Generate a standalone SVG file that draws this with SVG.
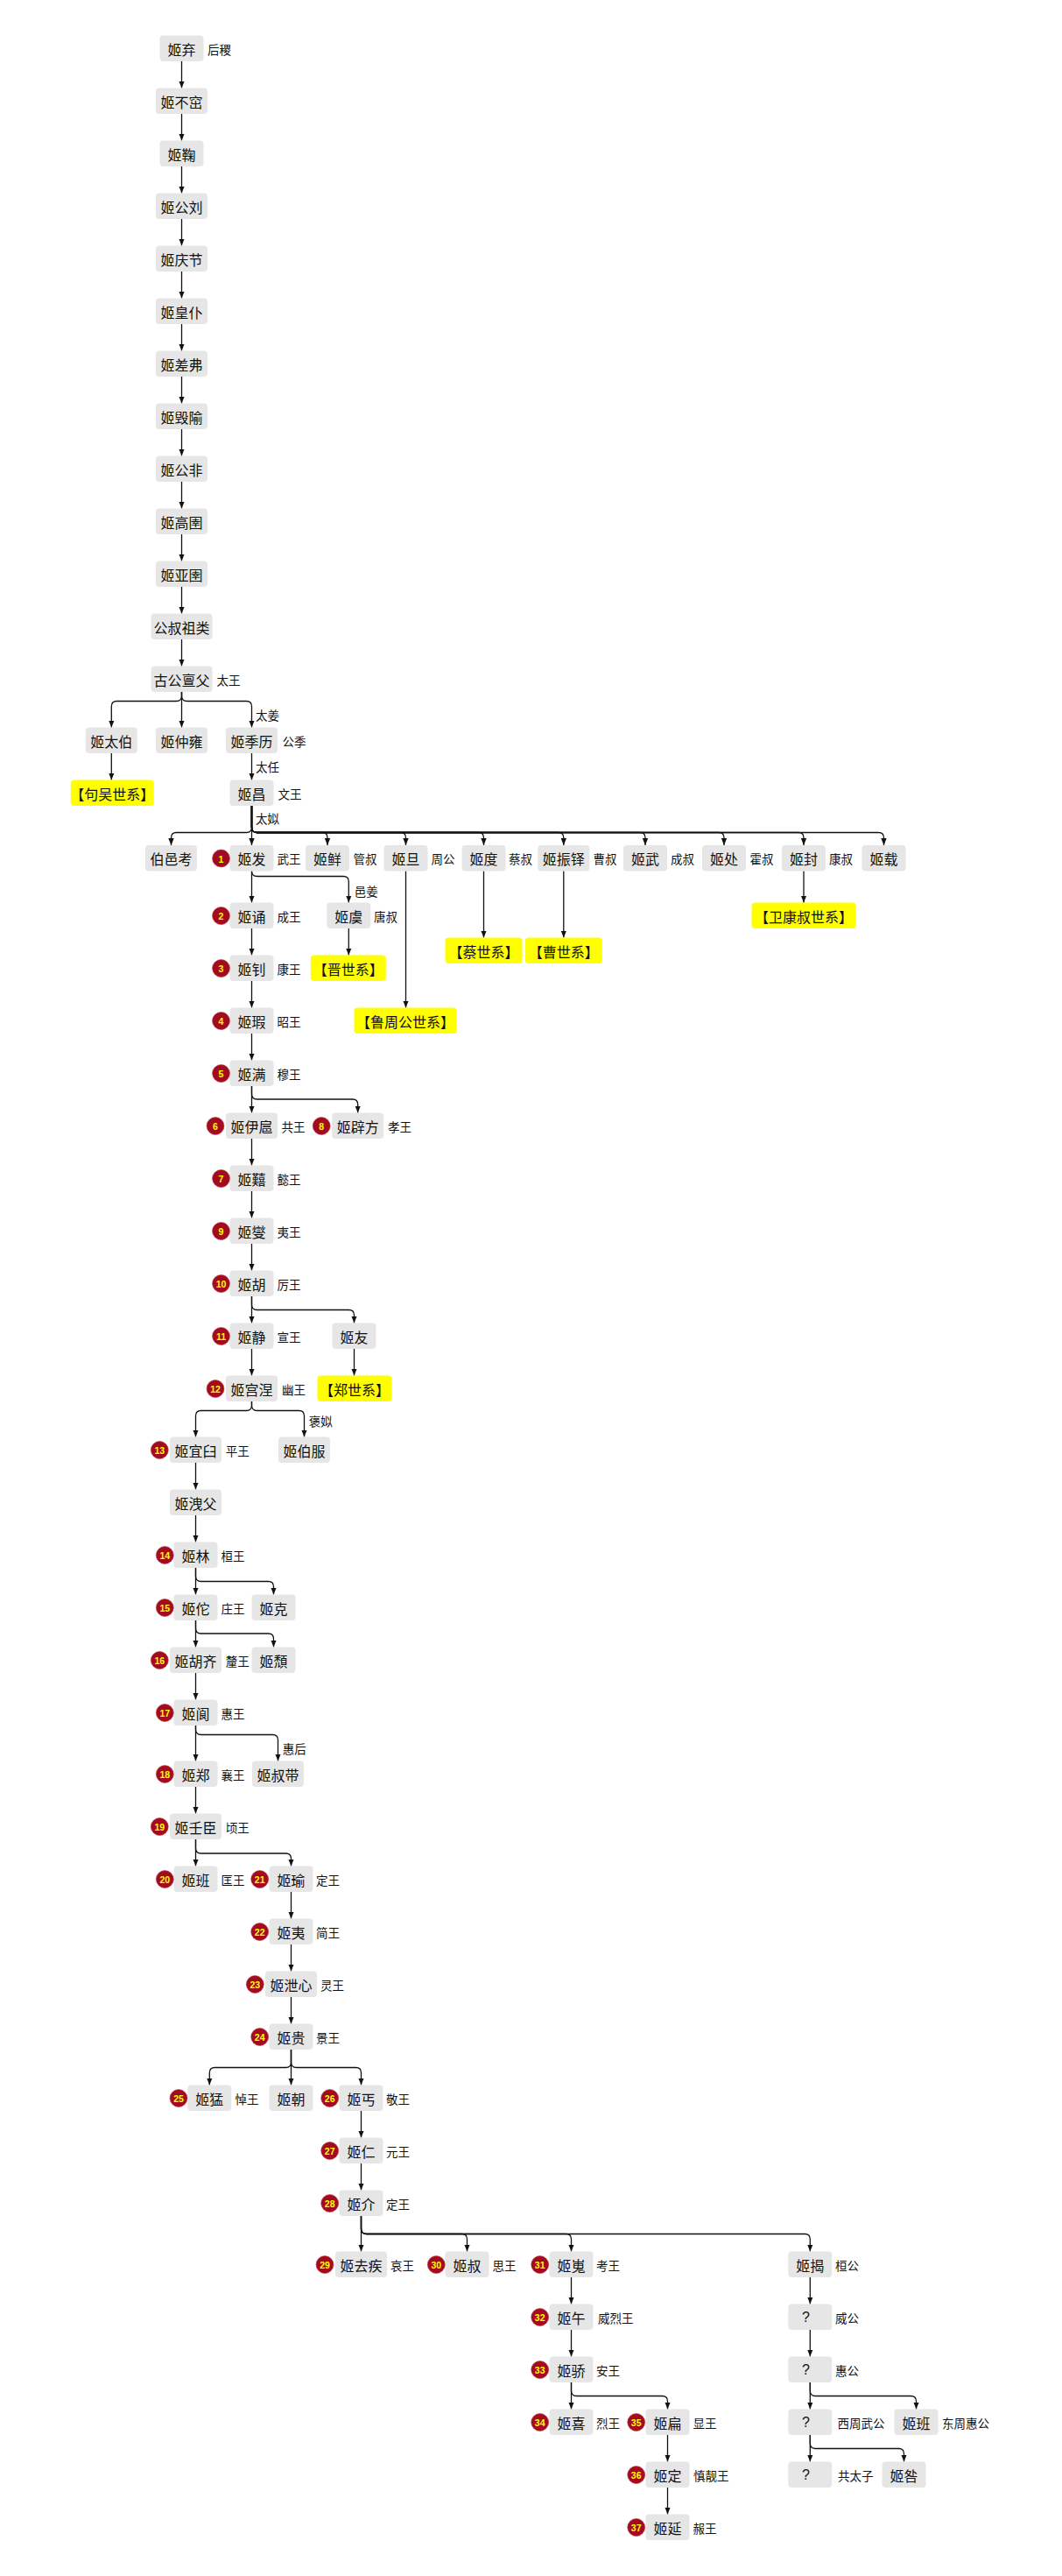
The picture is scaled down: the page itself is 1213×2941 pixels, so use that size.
<svg xmlns="http://www.w3.org/2000/svg" width="1213" height="2941" viewBox="0 0 1213 2941">
<defs>
<style>
.n rect{fill:#e6e6e6}
.h rect{fill:#ffff00}
text{font-family:"Noto Sans CJK SC","Noto Sans",sans-serif;dominant-baseline:central;fill:#111}
.n text,.h text{font-size:16px;text-anchor:middle}
text.lb,text.el{font-size:13.5px;text-anchor:start}
.q{font-family:"Liberation Sans",Arial,sans-serif}
.b circle{fill:#a30b1f;stroke:#c0404e;stroke-width:0.6}
.b text{font-family:"Liberation Sans",Arial,sans-serif;font-weight:bold;font-size:10.5px;fill:#ffff00;text-anchor:middle}
#edges path{fill:none;stroke:#111;stroke-width:1.3;marker-end:url(#ah)}
</style>
<marker id="ah" viewBox="0 0 10 10" refX="10" refY="5" markerWidth="8" markerHeight="8" markerUnits="userSpaceOnUse" orient="auto"><path d="M0,1 L10,5 L0,9 z" fill="#111"/></marker>
</defs>
<rect width="1213" height="2941" fill="#ffffff"/>

<g id="edges">
<path d="M207.5,70 V100.5"/>
<path d="M207.5,130 V160.5"/>
<path d="M207.5,190 V220.5"/>
<path d="M207.5,250 V280.5"/>
<path d="M207.5,310 V340.5"/>
<path d="M207.5,370 V400.5"/>
<path d="M207.5,430 V460.5"/>
<path d="M207.5,490 V520.5"/>
<path d="M207.5,550 V580.5"/>
<path d="M207.5,610 V640.5"/>
<path d="M207.5,670 V700.5"/>
<path d="M207.5,730 V760.5"/>
<path d="M207.5,790 V794.5 Q207.5,800.5 201.5,800.5 H133.3 Q127.3,800.5 127.3,806.5 V830.5"/>
<path d="M207.5,790 V830.5"/>
<path d="M207.5,790 V794.5 Q207.5,800.5 213.5,800.5 H281.5 Q287.5,800.5 287.5,806.5 V830.5"/>
<path d="M127.3,860 V890.5"/>
<path d="M287.5,860 V890.5"/>
<path d="M287.5,920 V944.5 Q287.5,950.5 281.5,950.5 H201.5 Q195.5,950.5 195.5,956.5 V965"/>
<path d="M287.5,920 V965"/>
<path d="M287.5,920 V944.5 Q287.5,950.5 293.5,950.5 H368 Q374,950.5 374,956.5 V965"/>
<path d="M287.5,920 V944.5 Q287.5,950.5 293.5,950.5 H457.5 Q463.5,950.5 463.5,956.5 V965"/>
<path d="M287.5,920 V944.5 Q287.5,950.5 293.5,950.5 H546.5 Q552.5,950.5 552.5,956.5 V965"/>
<path d="M287.5,920 V944.5 Q287.5,950.5 293.5,950.5 H637.8 Q643.8,950.5 643.8,956.5 V965"/>
<path d="M287.5,920 V944.5 Q287.5,950.5 293.5,950.5 H731 Q737,950.5 737,956.5 V965"/>
<path d="M287.5,920 V944.5 Q287.5,950.5 293.5,950.5 H821 Q827,950.5 827,956.5 V965"/>
<path d="M287.5,920 V944.5 Q287.5,950.5 293.5,950.5 H912 Q918,950.5 918,956.5 V965"/>
<path d="M287.5,920 V944.5 Q287.5,950.5 293.5,950.5 H1003.5 Q1009.5,950.5 1009.5,956.5 V965"/>
<path d="M287.5,994.5 V1030.5"/>
<path d="M287.5,994.5 Q287.5,1000.5 293.5,1000.5 H392.3 Q398.3,1000.5 398.3,1006.5 V1030.5"/>
<path d="M398.3,1060 V1090.5"/>
<path d="M463.5,994.5 V1150.5"/>
<path d="M552.5,994.5 V1070.5"/>
<path d="M643.8,994.5 V1070.5"/>
<path d="M918,994.5 V1030.5"/>
<path d="M287.5,1060 V1090.5"/>
<path d="M287.5,1120 V1150.5"/>
<path d="M287.5,1180 V1210.5"/>
<path d="M287.5,1240 V1270.5"/>
<path d="M287.5,1240 V1249 Q287.5,1255 293.5,1255 H402.7 Q408.7,1255 408.7,1261 V1270.5"/>
<path d="M287.5,1300 V1330.5"/>
<path d="M287.5,1360 V1390.5"/>
<path d="M287.5,1420 V1450.5"/>
<path d="M287.5,1480 V1510.5"/>
<path d="M287.5,1480 V1489.5 Q287.5,1495.5 293.5,1495.5 H398.5 Q404.5,1495.5 404.5,1501.5 V1510.5"/>
<path d="M287.5,1540 V1570.5"/>
<path d="M404.5,1540 V1570.5"/>
<path d="M287.5,1600 V1604.5 Q287.5,1610.5 281.5,1610.5 H229.5 Q223.5,1610.5 223.5,1616.5 V1640.5"/>
<path d="M287.5,1600 V1604.5 Q287.5,1610.5 293.5,1610.5 H341.5 Q347.5,1610.5 347.5,1616.5 V1640.5"/>
<path d="M223.5,1670 V1700.5"/>
<path d="M223.5,1730 V1760.5"/>
<path d="M223.5,1790 V1820.5"/>
<path d="M223.5,1790 V1799.5 Q223.5,1805.5 229.5,1805.5 H306.5 Q312.5,1805.5 312.5,1811.5 V1820.5"/>
<path d="M223.5,1850 V1880.5"/>
<path d="M223.5,1850 V1859 Q223.5,1865 229.5,1865 H306.5 Q312.5,1865 312.5,1871 V1880.5"/>
<path d="M223.5,1910 V1940.5"/>
<path d="M223.5,1970 V2010.5"/>
<path d="M223.5,1970 V1974.5 Q223.5,1980.5 229.5,1980.5 H311.5 Q317.5,1980.5 317.5,1986.5 V2010.5"/>
<path d="M223.5,2040 V2070.5"/>
<path d="M223.5,2100 V2130.5"/>
<path d="M223.5,2100 V2110 Q223.5,2116 229.5,2116 H326.5 Q332.5,2116 332.5,2122 V2130.5"/>
<path d="M332.5,2160 V2190.5"/>
<path d="M332.5,2220 V2250.5"/>
<path d="M332.5,2280 V2310.5"/>
<path d="M332.5,2340 V2354.5 Q332.5,2360.5 326.5,2360.5 H245.3 Q239.3,2360.5 239.3,2366.5 V2380.5"/>
<path d="M332.5,2340 V2380.5"/>
<path d="M332.5,2340 V2354.5 Q332.5,2360.5 338.5,2360.5 H406.5 Q412.5,2360.5 412.5,2366.5 V2380.5"/>
<path d="M412.5,2410 V2440.5"/>
<path d="M412.5,2470 V2500.5"/>
<path d="M412.5,2530 V2570.5"/>
<path d="M412.5,2530 V2544.5 Q412.5,2550.5 418.5,2550.5 H527.5 Q533.5,2550.5 533.5,2556.5 V2570.5"/>
<path d="M412.5,2530 V2544.5 Q412.5,2550.5 418.5,2550.5 H646.5 Q652.5,2550.5 652.5,2556.5 V2570.5"/>
<path d="M412.5,2530 V2544.5 Q412.5,2550.5 418.5,2550.5 H919.3 Q925.3,2550.5 925.3,2556.5 V2570.5"/>
<path d="M652.5,2600 V2630.5"/>
<path d="M652.5,2660 V2690.5"/>
<path d="M652.5,2720 V2750.5"/>
<path d="M652.5,2720 V2729.5 Q652.5,2735.5 658.5,2735.5 H756.5 Q762.5,2735.5 762.5,2741.5 V2750.5"/>
<path d="M762.5,2780 V2810.5"/>
<path d="M762.5,2840 V2870.5"/>
<path d="M925.3,2600 V2630.5"/>
<path d="M925.3,2660 V2690.5"/>
<path d="M925.3,2720 V2750.5"/>
<path d="M925.3,2720 V2729.5 Q925.3,2735.5 931.3,2735.5 H1040.5 Q1046.5,2735.5 1046.5,2741.5 V2750.5"/>
<path d="M925.3,2780 V2810.5"/>
<path d="M925.3,2780 V2789.5 Q925.3,2795.5 931.3,2795.5 H1026.5 Q1032.5,2795.5 1032.5,2801.5 V2810.5"/>
<text class="el" x="292" y="816">太姜</text>
<text class="el" x="292" y="875">太任</text>
<text class="el" x="292" y="933.5">太姒</text>
<text class="el" x="404.7" y="1016.5">邑姜</text>
<text class="el" x="352.7" y="1622">褒姒</text>
<text class="el" x="322.7" y="1996">惠后</text>
</g>

<g id="n-qi" class="n"><rect x="182.5" y="40.5" width="50" height="29.5" rx="4"/><text x="207.5" y="55.5">姬弃</text><text class="lb" x="237" y="55.5">后稷</text></g>
<g id="n-buku" class="n"><rect x="178" y="100.5" width="59" height="29.5" rx="4"/><text x="207.5" y="115.5">姬不窋</text></g>
<g id="n-ju" class="n"><rect x="182.5" y="160.5" width="50" height="29.5" rx="4"/><text x="207.5" y="175.5">姬鞠</text></g>
<g id="n-gongliu" class="n"><rect x="178" y="220.5" width="59" height="29.5" rx="4"/><text x="207.5" y="235.5">姬公刘</text></g>
<g id="n-qingjie" class="n"><rect x="178" y="280.5" width="59" height="29.5" rx="4"/><text x="207.5" y="295.5">姬庆节</text></g>
<g id="n-huangpu" class="n"><rect x="178" y="340.5" width="59" height="29.5" rx="4"/><text x="207.5" y="355.5">姬皇仆</text></g>
<g id="n-chafu" class="n"><rect x="178" y="400.5" width="59" height="29.5" rx="4"/><text x="207.5" y="415.5">姬差弗</text></g>
<g id="n-huiyu" class="n"><rect x="178" y="460.5" width="59" height="29.5" rx="4"/><text x="207.5" y="475.5">姬毁隃</text></g>
<g id="n-gongfei" class="n"><rect x="178" y="520.5" width="59" height="29.5" rx="4"/><text x="207.5" y="535.5">姬公非</text></g>
<g id="n-gaoyu" class="n"><rect x="178" y="580.5" width="59" height="29.5" rx="4"/><text x="207.5" y="595.5">姬高圉</text></g>
<g id="n-yayu" class="n"><rect x="178" y="640.5" width="59" height="29.5" rx="4"/><text x="207.5" y="655.5">姬亚圉</text></g>
<g id="n-zulei" class="n"><rect x="172.5" y="700.5" width="70" height="29.5" rx="4"/><text x="207.5" y="715.5">公叔祖类</text></g>
<g id="n-danfu" class="n"><rect x="172.5" y="760.5" width="70" height="29.5" rx="4"/><text x="207.5" y="775.5">古公亶父</text><text class="lb" x="247.5" y="775.5">太王</text></g>

<g id="n-taibo" class="n"><rect x="97.8" y="830.5" width="59" height="29.5" rx="4"/><text x="127.3" y="845.5">姬太伯</text></g>
<g id="n-zhongyong" class="n"><rect x="178" y="830.5" width="59" height="29.5" rx="4"/><text x="207.5" y="845.5">姬仲雍</text></g>
<g id="n-jili" class="n"><rect x="258" y="830.5" width="59" height="29.5" rx="4"/><text x="287.5" y="845.5">姬季历</text><text class="lb" x="322.5" y="845.5">公季</text></g>
<g id="h-gouwu" class="h"><rect x="80.8" y="890.5" width="95" height="29.5" rx="4"/><text x="128.3" y="905.5">【句吴世系】</text></g>
<g id="n-chang" class="n"><rect x="262.5" y="890.5" width="50" height="29.5" rx="4"/><text x="287.5" y="905.5">姬昌</text><text class="lb" x="317.5" y="905.5">文王</text></g>

<g id="n-boyikao" class="n"><rect x="166" y="965" width="59" height="29.5" rx="4"/><text x="195.5" y="980">伯邑考</text></g>
<g id="n-fa" class="n"><rect x="262.5" y="965" width="50" height="29.5" rx="4"/><text x="287.5" y="980">姬发</text><text class="lb" x="316.5" y="980">武王</text><g class="b"><circle cx="252.5" cy="980" r="10"/><text x="252.5" y="980.5">1</text></g></g>
<g id="n-xian" class="n"><rect x="349" y="965" width="50" height="29.5" rx="4"/><text x="374" y="980">姬鲜</text><text class="lb" x="403.5" y="980">管叔</text></g>
<g id="n-dan" class="n"><rect x="438.5" y="965" width="50" height="29.5" rx="4"/><text x="463.5" y="980">姬旦</text><text class="lb" x="492.5" y="980">周公</text></g>
<g id="n-du" class="n"><rect x="527.5" y="965" width="50" height="29.5" rx="4"/><text x="552.5" y="980">姬度</text><text class="lb" x="581" y="980">蔡叔</text></g>
<g id="n-zhenduo" class="n"><rect x="614.3" y="965" width="59" height="29.5" rx="4"/><text x="643.8" y="980">姬振铎</text><text class="lb" x="677.5" y="980">曹叔</text></g>
<g id="n-wu" class="n"><rect x="712" y="965" width="50" height="29.5" rx="4"/><text x="737" y="980">姬武</text><text class="lb" x="766" y="980">成叔</text></g>
<g id="n-chu" class="n"><rect x="802" y="965" width="50" height="29.5" rx="4"/><text x="827" y="980">姬处</text><text class="lb" x="856.5" y="980">霍叔</text></g>
<g id="n-feng" class="n"><rect x="893" y="965" width="50" height="29.5" rx="4"/><text x="918" y="980">姬封</text><text class="lb" x="947" y="980">康叔</text></g>
<g id="n-zai" class="n"><rect x="984.5" y="965" width="50" height="29.5" rx="4"/><text x="1009.5" y="980">姬载</text></g>

<g id="n-song" class="n"><rect x="262.5" y="1030.5" width="50" height="29.5" rx="4"/><text x="287.5" y="1045.5">姬诵</text><text class="lb" x="316.5" y="1045.5">成王</text><g class="b"><circle cx="252.5" cy="1045.5" r="10"/><text x="252.5" y="1046">2</text></g></g>
<g id="n-yu" class="n"><rect x="373.3" y="1030.5" width="50" height="29.5" rx="4"/><text x="398.3" y="1045.5">姬虞</text><text class="lb" x="427" y="1045.5">唐叔</text></g>
<g id="h-weikangshu" class="h"><rect x="858.5" y="1030.5" width="119" height="29.5" rx="4"/><text x="918" y="1045.5">【卫康叔世系】</text></g>
<g id="h-cai" class="h"><rect x="508.5" y="1070.5" width="88" height="29.5" rx="4"/><text x="552.5" y="1085.5">【蔡世系】</text></g>
<g id="h-cao" class="h"><rect x="599.8" y="1070.5" width="88" height="29.5" rx="4"/><text x="643.8" y="1085.5">【曹世系】</text></g>
<g id="n-zhao" class="n"><rect x="262.5" y="1090.5" width="50" height="29.5" rx="4"/><text x="287.5" y="1105.5">姬钊</text><text class="lb" x="316.5" y="1105.5">康王</text><g class="b"><circle cx="252.5" cy="1105.5" r="10"/><text x="252.5" y="1106">3</text></g></g>
<g id="h-jin" class="h"><rect x="354.8" y="1090.5" width="86" height="29.5" rx="4"/><text x="397.8" y="1105.5">【晋世系】</text></g>
<g id="n-xia" class="n"><rect x="262.5" y="1150.5" width="50" height="29.5" rx="4"/><text x="287.5" y="1165.5">姬瑕</text><text class="lb" x="316.5" y="1165.5">昭王</text><g class="b"><circle cx="252.5" cy="1165.5" r="10"/><text x="252.5" y="1166">4</text></g></g>
<g id="h-luzhougong" class="h"><rect x="404.5" y="1150.5" width="117" height="29.5" rx="4"/><text x="463" y="1165.5">【鲁周公世系】</text></g>
<g id="n-man" class="n"><rect x="262.5" y="1210.5" width="50" height="29.5" rx="4"/><text x="287.5" y="1225.5">姬满</text><text class="lb" x="316.5" y="1225.5">穆王</text><g class="b"><circle cx="252.5" cy="1225.5" r="10"/><text x="252.5" y="1226">5</text></g></g>
<g id="n-yihu" class="n"><rect x="258" y="1270.5" width="59" height="29.5" rx="4"/><text x="287.5" y="1285.5">姬伊扈</text><text class="lb" x="321.5" y="1285.5">共王</text><g class="b"><circle cx="246" cy="1285.5" r="10"/><text x="246" y="1286">6</text></g></g>
<g id="n-pifang" class="n"><rect x="379.2" y="1270.5" width="59" height="29.5" rx="4"/><text x="408.7" y="1285.5">姬辟方</text><text class="lb" x="443" y="1285.5">孝王</text><g class="b"><circle cx="367.2" cy="1285.5" r="10"/><text x="367.2" y="1286">8</text></g></g>
<g id="n-jian" class="n"><rect x="262.5" y="1330.5" width="50" height="29.5" rx="4"/><text x="287.5" y="1345.5">姬囏</text><text class="lb" x="316.5" y="1345.5">懿王</text><g class="b"><circle cx="252.5" cy="1345.5" r="10"/><text x="252.5" y="1346">7</text></g></g>
<g id="n-xie" class="n"><rect x="262.5" y="1390.5" width="50" height="29.5" rx="4"/><text x="287.5" y="1405.5">姬燮</text><text class="lb" x="316.5" y="1405.5">夷王</text><g class="b"><circle cx="252.5" cy="1405.5" r="10"/><text x="252.5" y="1406">9</text></g></g>
<g id="n-hu" class="n"><rect x="262.5" y="1450.5" width="50" height="29.5" rx="4"/><text x="287.5" y="1465.5">姬胡</text><text class="lb" x="316.5" y="1465.5">厉王</text><g class="b"><circle cx="252.5" cy="1465.5" r="10"/><text x="252.5" y="1466">10</text></g></g>
<g id="n-jing" class="n"><rect x="262.5" y="1510.5" width="50" height="29.5" rx="4"/><text x="287.5" y="1525.5">姬静</text><text class="lb" x="316.5" y="1525.5">宣王</text><g class="b"><circle cx="252.5" cy="1525.5" r="10"/><text x="252.5" y="1526">11</text></g></g>
<g id="n-you" class="n"><rect x="379.5" y="1510.5" width="50" height="29.5" rx="4"/><text x="404.5" y="1525.5">姬友</text></g>
<g id="n-gongsheng" class="n"><rect x="258" y="1570.5" width="59" height="29.5" rx="4"/><text x="287.5" y="1585.5">姬宫涅</text><text class="lb" x="322" y="1585.5">幽王</text><g class="b"><circle cx="246" cy="1585.5" r="10"/><text x="246" y="1586">12</text></g></g>
<g id="h-zheng" class="h"><rect x="362.5" y="1570.5" width="85" height="29.5" rx="4"/><text x="405" y="1585.5">【郑世系】</text></g>
<g id="n-yijiu" class="n"><rect x="194" y="1640.5" width="59" height="29.5" rx="4"/><text x="223.5" y="1655.5">姬宜臼</text><text class="lb" x="257.7" y="1655.5">平王</text><g class="b"><circle cx="182.3" cy="1655.5" r="10"/><text x="182.3" y="1656">13</text></g></g>
<g id="n-bofu" class="n"><rect x="318" y="1640.5" width="59" height="29.5" rx="4"/><text x="347.5" y="1655.5">姬伯服</text></g>
<g id="n-xiefu" class="n"><rect x="194" y="1700.5" width="59" height="29.5" rx="4"/><text x="223.5" y="1715.5">姬洩父</text></g>
<g id="n-lin" class="n"><rect x="198.5" y="1760.5" width="50" height="29.5" rx="4"/><text x="223.5" y="1775.5">姬林</text><text class="lb" x="252.5" y="1775.5">桓王</text><g class="b"><circle cx="188.3" cy="1775.5" r="10"/><text x="188.3" y="1776">14</text></g></g>
<g id="n-tuo" class="n"><rect x="198.5" y="1820.5" width="50" height="29.5" rx="4"/><text x="223.5" y="1835.5">姬佗</text><text class="lb" x="252.5" y="1835.5">庄王</text><g class="b"><circle cx="188.3" cy="1835.5" r="10"/><text x="188.3" y="1836">15</text></g></g>
<g id="n-ke" class="n"><rect x="287.5" y="1820.5" width="50" height="29.5" rx="4"/><text x="312.5" y="1835.5">姬克</text></g>
<g id="n-huqi" class="n"><rect x="194" y="1880.5" width="59" height="29.5" rx="4"/><text x="223.5" y="1895.5">姬胡齐</text><text class="lb" x="257.7" y="1895.5">釐王</text><g class="b"><circle cx="182.3" cy="1895.5" r="10"/><text x="182.3" y="1896">16</text></g></g>
<g id="n-tui" class="n"><rect x="287.5" y="1880.5" width="50" height="29.5" rx="4"/><text x="312.5" y="1895.5">姬頹</text></g>
<g id="n-lang" class="n"><rect x="198.5" y="1940.5" width="50" height="29.5" rx="4"/><text x="223.5" y="1955.5">姬阆</text><text class="lb" x="252.5" y="1955.5">惠王</text><g class="b"><circle cx="188.3" cy="1955.5" r="10"/><text x="188.3" y="1956">17</text></g></g>
<g id="n-zhengw" class="n"><rect x="198.5" y="2010.5" width="50" height="29.5" rx="4"/><text x="223.5" y="2025.5">姬郑</text><text class="lb" x="252.5" y="2025.5">襄王</text><g class="b"><circle cx="188.3" cy="2025.5" r="10"/><text x="188.3" y="2026">18</text></g></g>
<g id="n-shudai" class="n"><rect x="288" y="2010.5" width="59" height="29.5" rx="4"/><text x="317.5" y="2025.5">姬叔带</text></g>
<g id="n-renchen" class="n"><rect x="194" y="2070.5" width="59" height="29.5" rx="4"/><text x="223.5" y="2085.5">姬壬臣</text><text class="lb" x="257.7" y="2085.5">顷王</text><g class="b"><circle cx="182.3" cy="2085.5" r="10"/><text x="182.3" y="2086">19</text></g></g>
<g id="n-ban" class="n"><rect x="198.5" y="2130.5" width="50" height="29.5" rx="4"/><text x="223.5" y="2145.5">姬班</text><text class="lb" x="252.5" y="2145.5">匡王</text><g class="b"><circle cx="188.3" cy="2145.5" r="10"/><text x="188.3" y="2146">20</text></g></g>
<g id="n-yuw" class="n"><rect x="307.5" y="2130.5" width="50" height="29.5" rx="4"/><text x="332.5" y="2145.5">姬瑜</text><text class="lb" x="361" y="2145.5">定王</text><g class="b"><circle cx="296.7" cy="2145.5" r="10"/><text x="296.7" y="2146">21</text></g></g>
<g id="n-yi" class="n"><rect x="307.5" y="2190.5" width="50" height="29.5" rx="4"/><text x="332.5" y="2205.5">姬夷</text><text class="lb" x="361" y="2205.5">简王</text><g class="b"><circle cx="296.7" cy="2205.5" r="10"/><text x="296.7" y="2206">22</text></g></g>
<g id="n-xiexin" class="n"><rect x="303" y="2250.5" width="59" height="29.5" rx="4"/><text x="332.5" y="2265.5">姬泄心</text><text class="lb" x="366" y="2265.5">灵王</text><g class="b"><circle cx="291.3" cy="2265.5" r="10"/><text x="291.3" y="2266">23</text></g></g>
<g id="n-gui" class="n"><rect x="307.5" y="2310.5" width="50" height="29.5" rx="4"/><text x="332.5" y="2325.5">姬贵</text><text class="lb" x="361" y="2325.5">景王</text><g class="b"><circle cx="296.7" cy="2325.5" r="10"/><text x="296.7" y="2326">24</text></g></g>
<g id="n-meng" class="n"><rect x="214.3" y="2380.5" width="50" height="29.5" rx="4"/><text x="239.3" y="2395.5">姬猛</text><text class="lb" x="268.5" y="2395.5">悼王</text><g class="b"><circle cx="204" cy="2395.5" r="10"/><text x="204" y="2396">25</text></g></g>
<g id="n-chao" class="n"><rect x="307.5" y="2380.5" width="50" height="29.5" rx="4"/><text x="332.5" y="2395.5">姬朝</text></g>
<g id="n-gai" class="n"><rect x="387.5" y="2380.5" width="50" height="29.5" rx="4"/><text x="412.5" y="2395.5">姬丐</text><text class="lb" x="441" y="2395.5">敬王</text><g class="b"><circle cx="376.7" cy="2395.5" r="10"/><text x="376.7" y="2396">26</text></g></g>
<g id="n-ren" class="n"><rect x="387.5" y="2440.5" width="50" height="29.5" rx="4"/><text x="412.5" y="2455.5">姬仁</text><text class="lb" x="441" y="2455.5">元王</text><g class="b"><circle cx="376.7" cy="2455.5" r="10"/><text x="376.7" y="2456">27</text></g></g>
<g id="n-jie" class="n"><rect x="387.5" y="2500.5" width="50" height="29.5" rx="4"/><text x="412.5" y="2515.5">姬介</text><text class="lb" x="441" y="2515.5">定王</text><g class="b"><circle cx="376.7" cy="2515.5" r="10"/><text x="376.7" y="2516">28</text></g></g>
<g id="n-quji" class="n"><rect x="383" y="2570.5" width="59" height="29.5" rx="4"/><text x="412.5" y="2585.5">姬去疾</text><text class="lb" x="446" y="2585.5">哀王</text><g class="b"><circle cx="371" cy="2585.5" r="10"/><text x="371" y="2586">29</text></g></g>
<g id="n-shu" class="n"><rect x="508.5" y="2570.5" width="50" height="29.5" rx="4"/><text x="533.5" y="2585.5">姬叔</text><text class="lb" x="562.5" y="2585.5">思王</text><g class="b"><circle cx="498.3" cy="2585.5" r="10"/><text x="498.3" y="2586">30</text></g></g>
<g id="n-wei" class="n"><rect x="627.5" y="2570.5" width="50" height="29.5" rx="4"/><text x="652.5" y="2585.5">姬嵬</text><text class="lb" x="681" y="2585.5">考王</text><g class="b"><circle cx="616.7" cy="2585.5" r="10"/><text x="616.7" y="2586">31</text></g></g>
<g id="n-jiehuan" class="n"><rect x="900.3" y="2570.5" width="50" height="29.5" rx="4"/><text x="925.3" y="2585.5">姬揭</text><text class="lb" x="954" y="2585.5">桓公</text></g>
<g id="n-wu2" class="n"><rect x="627.5" y="2630.5" width="50" height="29.5" rx="4"/><text x="652.5" y="2645.5">姬午</text><text class="lb" x="683" y="2645.5">威烈王</text><g class="b"><circle cx="616.7" cy="2645.5" r="10"/><text x="616.7" y="2646">32</text></g></g>
<g id="n-q1" class="n"><rect x="900.3" y="2630.5" width="50" height="29.5" rx="4"/><text class="q" x="920.5" y="2645.5">?</text><text class="lb" x="954" y="2645.5">威公</text></g>
<g id="n-jiao" class="n"><rect x="627.5" y="2690.5" width="50" height="29.5" rx="4"/><text x="652.5" y="2705.5">姬骄</text><text class="lb" x="681" y="2705.5">安王</text><g class="b"><circle cx="616.7" cy="2705.5" r="10"/><text x="616.7" y="2706">33</text></g></g>
<g id="n-q2" class="n"><rect x="900.3" y="2690.5" width="50" height="29.5" rx="4"/><text class="q" x="920.5" y="2705.5">?</text><text class="lb" x="954" y="2705.5">惠公</text></g>
<g id="n-xi" class="n"><rect x="627.5" y="2750.5" width="50" height="29.5" rx="4"/><text x="652.5" y="2765.5">姬喜</text><text class="lb" x="681" y="2765.5">烈王</text><g class="b"><circle cx="616.7" cy="2765.5" r="10"/><text x="616.7" y="2766">34</text></g></g>
<g id="n-bian" class="n"><rect x="737.5" y="2750.5" width="50" height="29.5" rx="4"/><text x="762.5" y="2765.5">姬扁</text><text class="lb" x="791.5" y="2765.5">显王</text><g class="b"><circle cx="726.7" cy="2765.5" r="10"/><text x="726.7" y="2766">35</text></g></g>
<g id="n-q3" class="n"><rect x="900.3" y="2750.5" width="50" height="29.5" rx="4"/><text class="q" x="920.5" y="2765.5">?</text><text class="lb" x="956.5" y="2765.5">西周武公</text></g>
<g id="n-ban2" class="n"><rect x="1021.5" y="2750.5" width="50" height="29.5" rx="4"/><text x="1046.5" y="2765.5">姬班</text><text class="lb" x="1076" y="2765.5">东周惠公</text></g>
<g id="n-ding" class="n"><rect x="737.5" y="2810.5" width="50" height="29.5" rx="4"/><text x="762.5" y="2825.5">姬定</text><text class="lb" x="792" y="2825.5">慎靓王</text><g class="b"><circle cx="726.7" cy="2825.5" r="10"/><text x="726.7" y="2826">36</text></g></g>
<g id="n-q4" class="n"><rect x="900.3" y="2810.5" width="50" height="29.5" rx="4"/><text class="q" x="920.5" y="2825.5">?</text><text class="lb" x="957" y="2825.5">共太子</text></g>
<g id="n-jiu" class="n"><rect x="1007.5" y="2810.5" width="50" height="29.5" rx="4"/><text x="1032.5" y="2825.5">姬咎</text></g>
<g id="n-yan" class="n"><rect x="737.5" y="2870.5" width="50" height="29.5" rx="4"/><text x="762.5" y="2885.5">姬延</text><text class="lb" x="791.5" y="2885.5">赧王</text><g class="b"><circle cx="726.7" cy="2885.5" r="10"/><text x="726.7" y="2886">37</text></g></g>
</svg>
